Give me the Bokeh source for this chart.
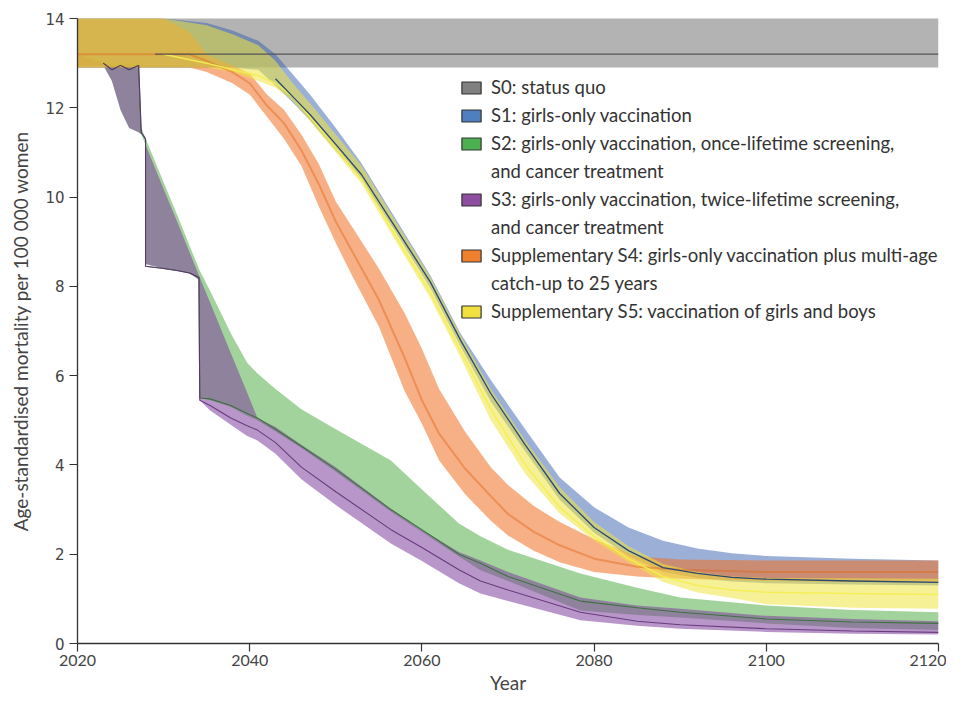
from bokeh.plotting import figure
from bokeh.models import Legend, LegendItem, Range1d, FixedTicker
from bokeh.embed import file_html
from bokeh.resources import INLINE

SANS = "Lato"

x_ticks = [2020, 2040, 2060, 2080, 2100, 2120]
y_ticks = [0, 2, 4, 6, 8, 10, 12, 14]

# S0 status quo
yrs0 = [2020, 2120]
lo0 = [12.9, 12.9]
hi0 = [14.05, 14.05]
yrs0_line = [2029, 2120]
med0 = [13.2, 13.2]

# S1 girls-only vaccination / S5 girls and boys (same year grid)
yrs1 = [2020, 2030, 2035, 2038, 2041, 2043, 2045, 2047, 2050, 2053, 2057, 2061, 2064.5, 2068,
        2072, 2076, 2080, 2084, 2088, 2092, 2096, 2100, 2110, 2120]
hi1 = [14.0, 14.0, 13.9, 13.73, 13.5, 13.2, 12.75, 12.3, 11.55, 10.75, 9.5, 8.24, 6.94, 5.9,
       4.8, 3.72, 3.05, 2.6, 2.3, 2.13, 2.02, 1.96, 1.9, 1.86]
med1 = [13.2, 13.2, 13.2, 13.2, 13.0, 12.65, 12.25, 11.85, 11.18, 10.5, 9.3, 8.09, 6.79, 5.6,
        4.45, 3.36, 2.6, 2.08, 1.7, 1.57, 1.48, 1.44, 1.4, 1.37]
lo1 = [12.9, 12.9, 12.9, 12.9, 12.85, 12.5, 12.12, 11.72, 11.05, 10.38, 9.2, 7.95, 6.65, 5.42,
       4.3, 3.22, 2.48, 1.96, 1.6, 1.47, 1.39, 1.35, 1.32, 1.3]

yrs5 = yrs1
hi5 = [14.0, 14.0, 13.85, 13.65, 13.4, 13.05, 12.55, 12.1, 11.4, 10.7, 9.45, 8.2, 6.9, 5.7,
       4.55, 3.5, 2.72, 2.18, 1.78, 1.6, 1.5, 1.47, 1.46, 1.45]
med5 = [13.2, 13.2, 13.0, 12.85, 12.72, 12.55, 12.25, 11.8, 11.1, 10.4, 9.1, 7.85, 6.55, 5.25,
        4.0, 3.05, 2.4, 1.9, 1.5, 1.3, 1.2, 1.15, 1.12, 1.1]
lo5 = [12.9, 12.9, 12.9, 12.8, 12.6, 12.45, 12.15, 11.7, 11.0, 10.3, 9.0, 7.73, 6.4, 5.0,
       3.8, 2.91, 2.31, 1.82, 1.38, 1.14, 1.02, 0.88, 0.8, 0.78]

# S2 / S3 screening scenarios (shared year grid with screening steps)
yrs23 = [2020, 2023, 2024, 2025, 2026, 2027.1, 2027.4, 2027.9, 2027.9, 2030, 2031.7, 2033,
         2034.1, 2034.2, 2035.4, 2037.8, 2039.7, 2040.9, 2043, 2046, 2050, 2056.4, 2060,
         2064.3, 2066.8, 2070, 2078.4, 2085, 2090, 2100, 2110, 2120]
hi2 = [13.2, 13.05, 13.0, 13.0, 13.0, 13.0, 11.56, 11.32, 11.32, 10.33, 9.54, 8.92,
       8.4, 8.35, 7.9, 6.95, 6.29, 6.05, 5.7, 5.25, 4.8, 4.1, 3.45,
       2.69, 2.4, 2.1, 1.57, 1.25, 1.03, 0.85, 0.75, 0.7]
med2 = [13.15, 13.0, 12.85, 12.95, 12.85, 12.95, 11.45, 11.3, 8.45, 8.4, 8.35, 8.3,
        8.2, 5.5, 5.48, 5.33, 5.15, 5.05, 4.8, 4.42, 3.9, 3.0, 2.55,
        2.0, 1.8, 1.5, 0.95, 0.8, 0.7, 0.55, 0.48, 0.45]
lo2 = [12.95, 12.95, 12.6, 11.95, 11.55, 11.45, 11.41, 11.17, 8.5, 8.4, 8.35, 8.3,
       8.15, 5.5, 5.45, 5.3, 5.1, 5.0, 4.75, 4.38, 3.85, 2.95, 2.5,
       1.95, 1.64, 1.4, 0.74, 0.64, 0.58, 0.45, 0.35, 0.3]
hi3 = [13.2, 13.0, 12.95, 12.95, 12.95, 12.95, 11.41, 11.17, 11.17, 10.18, 9.39, 8.77,
       8.25, 8.2, 7.64, 6.51, 5.62, 5.05, 4.85, 4.45, 3.95, 3.02, 2.55,
       2.05, 1.86, 1.6, 1.03, 0.85, 0.78, 0.62, 0.55, 0.5]
med3 = [13.15, 13.0, 12.85, 12.95, 12.85, 12.95, 11.45, 11.3, 8.45, 8.4, 8.35, 8.3,
        8.2, 5.45, 5.33, 5.05, 4.88, 4.78, 4.5, 3.95, 3.4, 2.55, 2.15,
        1.65, 1.4, 1.2, 0.7, 0.5, 0.42, 0.33, 0.28, 0.25]
lo3 = [12.95, 12.95, 12.6, 11.95, 11.55, 11.45, 11.41, 11.17, 8.5, 8.4, 8.35, 8.3,
       8.15, 5.45, 5.22, 4.9, 4.65, 4.55, 4.25, 3.68, 3.1, 2.24, 1.85,
       1.35, 1.12, 0.95, 0.52, 0.4, 0.33, 0.26, 0.22, 0.2]

# Supplementary S4 catch-up
yrs4 = [2020, 2030, 2033, 2035, 2038, 2040, 2042, 2044, 2046, 2048, 2050, 2052, 2055, 2058,
        2060, 2062, 2065, 2068, 2070, 2073, 2076, 2080, 2085, 2090, 2100, 2110, 2120]
hi4 = [14.0, 14.0, 13.7, 13.2, 12.95, 12.77, 12.3, 11.95, 11.4, 10.75, 9.9, 9.3, 8.4, 7.4,
       6.6, 5.7, 4.75, 3.95, 3.55, 3.08, 2.72, 2.34, 1.95, 1.88, 1.86, 1.86, 1.86]
med4 = [13.2, 13.2, 13.2, 13.05, 12.8, 12.55, 12.05, 11.65, 11.05, 10.3, 9.45, 8.75, 7.7, 6.4,
        5.45, 4.7, 3.92, 3.3, 2.9, 2.5, 2.2, 1.9, 1.72, 1.65, 1.6, 1.6, 1.6]
lo4 = [12.9, 12.9, 12.9, 12.8, 12.55, 12.3, 11.8, 11.3, 10.7, 9.8, 8.97, 8.2, 7.1, 5.65,
       4.92, 4.1, 3.35, 2.75, 2.42, 2.08, 1.82, 1.6, 1.5, 1.45, 1.4, 1.38, 1.38]

labels = ["S0: status quo",
          "S1: girls-only vaccination",
          "S2: girls-only vaccination, once-lifetime screening,",
          "and cancer treatment",
          "S3: girls-only vaccination, twice-lifetime screening,",
          "and cancer treatment",
          "Supplementary S4: girls-only vaccination plus multi-age",
          "catch-up to 25 years",
          "Supplementary S5: vaccination of girls and boys"]
swatch_colors = ["#808080", "#4f7fbf", "#4cb050", None, "#8e4ea0", None, "#f08030", None, "#f0e040"]

p = figure(width=946, height=698, x_range=Range1d(2020, 2120), y_range=Range1d(0, 14),
           output_backend="svg", toolbar_location=None,
           min_border_left=77, min_border_right=8, min_border_top=18, min_border_bottom=55)
p.outline_line_color = None
p.xgrid.visible = False
p.ygrid.visible = False
p.background_fill_color = "white"

# bands
p.varea(x=yrs0, y1=lo0, y2=hi0, fill_color="#999999", fill_alpha=0.75)
p.varea(x=yrs1, y1=lo1, y2=hi1, fill_color="#3a62b0", fill_alpha=0.5)
p.varea(x=yrs23, y1=lo2, y2=hi2, fill_color="#47a83a", fill_alpha=0.5)
p.varea(x=yrs23, y1=lo3, y2=hi3, fill_color="#7f3f9f", fill_alpha=0.55)
p.varea(x=yrs4, y1=lo4, y2=hi4, fill_color="#f07020", fill_alpha=0.55)
p.varea(x=yrs5, y1=lo5, y2=hi5, fill_color="#efe640", fill_alpha=0.55)

# median lines (only the visible stretches)
s23 = yrs23.index(2023)
s1 = yrs1.index(2043)
s5 = yrs5.index(2030)
p.line(yrs4, med4, line_color="#e0651c", line_width=2, line_alpha=0.45)
p.line(yrs5[s5:], med5[s5:], line_color="#f4ee50", line_width=1.5, line_alpha=0.9)
p.line(yrs23[s23:], med2[s23:], line_color="#2f6e2f", line_width=1.1, line_alpha=0.85)
p.line(yrs23[s23:], med3[s23:], line_color="#5a2d70", line_width=1.1, line_alpha=0.85)
p.line(yrs1[s1:], med1[s1:], line_color="#2b4870", line_width=1.3)
p.line(yrs0_line, med0, line_color="#555555", line_width=1.2)

# legend (proxy renderers with no drawable geometry)
nan = float("nan")
items = []
for lab, c in zip(labels, swatch_colors):
    if c is None:
        r = p.quad(left=[nan], right=[nan], top=[nan], bottom=[nan], fill_alpha=0, line_alpha=0)
    else:
        r = p.quad(left=[nan], right=[nan], top=[nan], bottom=[nan], fill_color=c,
                   line_color="#333333", line_width=1.2)
    items.append(LegendItem(label=lab, renderers=[r]))

leg = Legend(items=items, location=(382, 321), glyph_width=24, glyph_height=15,
             label_standoff=8, spacing=6, padding=0, margin=0, border_line_color=None,
             background_fill_alpha=0, label_text_font=SANS, label_text_font_size="18.5px",
             label_text_color="#333333", label_height=22)
p.add_layout(leg)

# axes
for ax in (p.xaxis[0], p.yaxis[0]):
    ax.axis_line_color = "#333333"
    ax.axis_line_width = 1.3
    ax.major_tick_line_color = "#333333"
    ax.major_tick_line_width = 1.2
    ax.major_tick_in = 0
    ax.minor_tick_line_color = None

p.xaxis.ticker = FixedTicker(ticks=x_ticks)
p.yaxis.ticker = FixedTicker(ticks=y_ticks)
p.xaxis.major_tick_out = 8
p.yaxis.major_tick_out = 8
p.xaxis.major_label_standoff = 3
p.xaxis.major_label_text_font = SANS
p.xaxis.major_label_text_font_size = "16px"
p.xaxis.major_label_text_color = "#444444"
p.yaxis.major_label_text_font = "DejaVu Sans"
p.yaxis.major_label_text_font_size = "15px"
p.yaxis.major_label_text_color = "#444444"
p.xaxis.axis_label = "Year"
p.yaxis.axis_label = "Age-standardised mortality per 100 000 women"
for ax in (p.xaxis[0], p.yaxis[0]):
    ax.axis_label_text_font = SANS
    ax.axis_label_text_font_size = "19px"
    ax.axis_label_text_font_style = "normal"
    ax.axis_label_text_color = "#444444"
p.xaxis.axis_label_standoff = 2
p.yaxis.axis_label_standoff = 10

open("out.html", "w").write(file_html(p, INLINE))
